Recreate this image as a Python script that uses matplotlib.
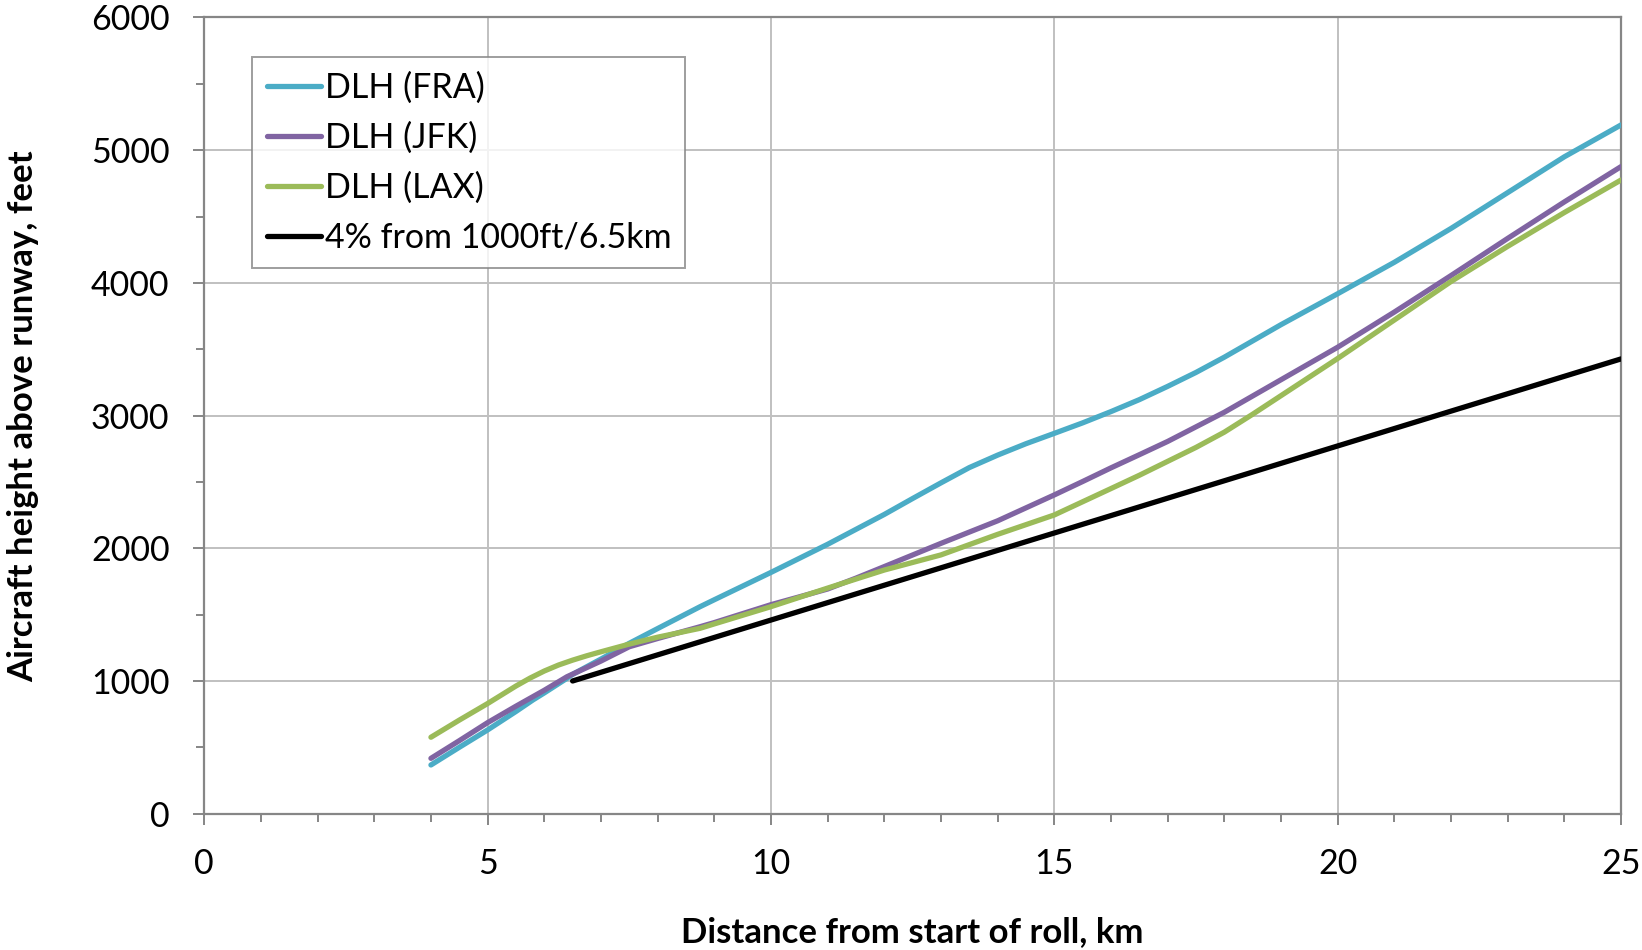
import matplotlib
matplotlib.use("Agg")
import matplotlib.pyplot as plt
from matplotlib.ticker import MultipleLocator

plt.rcParams['font.family'] = ['Lato', 'DejaVu Sans']

# climb profiles, distance from start of roll (km) vs height (ft)
dist_fra = [4.0, 4.5, 5.0, 5.5, 5.8, 6.0, 6.4, 6.5, 7.0, 7.5, 8.0, 8.75, 9.0, 10, 11, 12, 12.5, 13,
            13.5, 14, 14.5, 15, 15.5, 16, 16.5, 17, 17.5, 18, 19, 20, 21, 22, 23, 24, 25]
h_fra = [367, 500, 631, 770, 857, 910, 1020, 1050, 1165, 1284, 1395, 1560, 1612, 1818, 2030, 2255,
         2375, 2493, 2608, 2702, 2788, 2866, 2945, 3030, 3120, 3220, 3325, 3440, 3685, 3918, 4155,
         4410, 4680, 4950, 5190]

dist_jfk = [4.0, 4.5, 5.0, 5.5, 5.8, 6.0, 6.4, 7.0, 7.5, 8.0, 8.75, 9.0, 10, 11, 11.5, 12, 13, 14, 15,
            15.5, 16, 16.5, 17, 18, 19, 20, 21, 22, 23, 24, 25]
h_jfk = [417, 550, 686, 810, 882, 930, 1032, 1150, 1258, 1320, 1409, 1440, 1575, 1693, 1775, 1862,
         2037, 2207, 2402, 2503, 2606, 2705, 2805, 3025, 3270, 3515, 3780, 4055, 4335, 4610, 4876]

dist_lax = [4.0, 4.5, 5.0, 5.5, 5.75, 6.0, 6.25, 6.5, 6.75, 7.0, 7.5, 8.0, 8.75, 9.0, 10, 11, 12, 13,
            14, 15, 16, 16.5, 17, 17.5, 18, 18.5, 19, 20, 21, 22, 23, 24, 25]
h_lax = [576, 705, 830, 962, 1022, 1075, 1120, 1157, 1190, 1220, 1278, 1330, 1397, 1430, 1560, 1700,
         1836, 1950, 2105, 2251, 2450, 2550, 2655, 2760, 2875, 3010, 3150, 3430, 3720, 4010, 4275,
         4530, 4775]

# 4% gradient reference from 1000 ft at 6.5 km
dist_ref = [6.5, 25]
h_ref = [1000, 3427]

fig = plt.figure(figsize=(16.42, 9.5), dpi=100)
ax = fig.add_axes([0.1244, 0.1435, 0.8628, 0.8381])

lw = 3.8
ax.plot(dist_fra, h_fra, color='#4BACC6', lw=lw, label='DLH (FRA)', solid_capstyle='round',
        solid_joinstyle='round', zorder=3)
ax.plot(dist_jfk, h_jfk, color='#8064A2', lw=lw, label='DLH (JFK)', solid_capstyle='round',
        solid_joinstyle='round', zorder=3)
ax.plot(dist_lax, h_lax, color='#9BBB59', lw=lw, label='DLH (LAX)', solid_capstyle='round',
        solid_joinstyle='round', zorder=3)
ax.plot(dist_ref, h_ref, color='black', lw=lw, label='4% from 1000ft/6.5km', solid_capstyle='round',
        zorder=3)

ax.set_xlim(0, 25)
ax.set_ylim(0, 6000)
ax.xaxis.set_major_locator(MultipleLocator(5))
ax.xaxis.set_minor_locator(MultipleLocator(1))
ax.yaxis.set_major_locator(MultipleLocator(1000))
ax.yaxis.set_minor_locator(MultipleLocator(500))

ax.grid(True, which='major', color='#C0C0C0', lw=1.4, zorder=0)
for s in ax.spines.values():
    s.set_color('#868686')
    s.set_linewidth(1.6)

ax.tick_params(axis='both', which='major', direction='out', length=8, width=1.4,
               color='#868686', labelsize=24.5)
ax.tick_params(axis='both', which='minor', direction='out', length=6, width=1.4, color='#868686')
ax.tick_params(axis='x', which='major', pad=17)
ax.tick_params(axis='y', which='major', pad=17)

ax.set_xlabel('Distance from start of roll, km', fontsize=25, fontweight='bold', va='center')
ax.set_ylabel('Aircraft height above runway, feet', fontsize=25, fontweight='bold', va='center')
ax.xaxis.set_label_coords(0.5, -0.1486)
ax.yaxis.set_label_coords(-0.128, 0.499)

leg = ax.legend(loc='upper left', bbox_to_anchor=(0.034, 0.95), fontsize=24.5, frameon=True,
                fancybox=False, edgecolor='#868686', handlelength=1.6, handletextpad=0.1,
                labelspacing=0.52, borderpad=0.42, borderaxespad=0)
leg.get_frame().set_linewidth(1.4)

fig.savefig('out.png', dpi=100)
